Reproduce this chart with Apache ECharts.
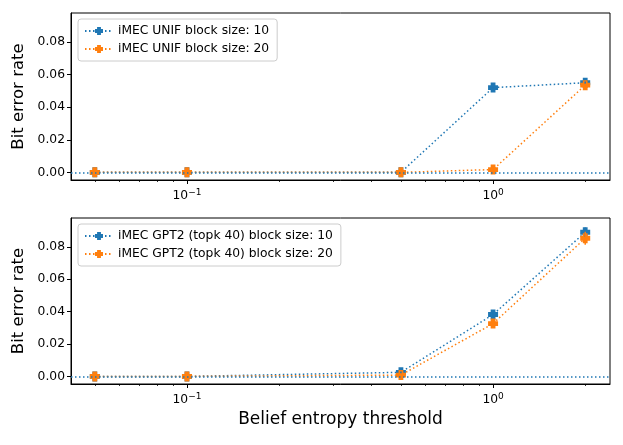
<!DOCTYPE html>
<html><head><meta charset="utf-8">
<script src="https://cdn.jsdelivr.net/npm/echarts@6/dist/echarts.min.js"></script>
<style>html,body{margin:0;padding:0;background:#fff}#c{width:623px;height:445px}</style>
</head><body><div id="c"></div>
<script>
const thresholds = [0.05, 0.1, 0.5, 1, 2];
const unif10 = [0, 0, 0, 0.052, 0.055];
const unif10Err = [0, 0, 0, 0.0008, 0.0008];
const unif20 = [0, 0, 0, 0.0017, 0.0535];
const unif20Err = [0, 0, 0, 0.0008, 0.001];
const gpt10 = [0, 0, 0.0025, 0.0382, 0.089];
const gpt10Err = [0, 0, 0.0005, 0.0015, 0.003];
const gpt20 = [0, 0, 0.0008, 0.0326, 0.0853];
const gpt20Err = [0, 0, 0.0005, 0.002, 0.004];
const yTicks = [0, 0.02, 0.04, 0.06, 0.08];
const xMajor = [0.1, 1];
const xMinor = [0.05,0.06,0.07,0.08,0.09,0.2,0.3,0.4,0.5,0.6,0.7,0.8,0.9,2];
const names = ['iMEC UNIF block size: 10','iMEC UNIF block size: 20','iMEC GPT2 (topk 40) block size: 10','iMEC GPT2 (topk 40) block size: 20'];

const BLUE = '#1f77b4', ORANGE = '#ff7f0e';
const FONT = 'DejaVu Sans';
const plusPath = 'path://M2.6,0H7.4V2.6H10V7.4H7.4V10H2.6V7.4H0V2.6H2.6Z';
const dots = [1.5, 2.5];

function pts(v){ return thresholds.map((x,i)=>[x, v[i]]); }
function errPts(v,e){ return thresholds.map((x,i)=>[x, v[i], e[i]]); }

const grids = [
  {left:71, right:13, top:13, height:167, show:true, borderColor:'#000', borderWidth:1},
  {left:71, right:13, top:218, height:166, show:true, borderColor:'#000', borderWidth:1}
];
const xAxes = [], yAxes = [];
[0,1].forEach(g=>{
  xAxes.push({type:'log', logBase:10, gridIndex:g, min:0.0418, max:2.41,
    name: g===1 ? 'Belief entropy threshold' : '', nameLocation:'middle', nameGap:27,
    nameTextStyle:{fontFamily:FONT, fontSize:17, color:'#000'},
    axisLine:{show:true, onZero:false, lineStyle:{color:'#000', width:1}},
    splitLine:{show:false}, minorSplitLine:{show:false},
    axisTick:{show:true, inside:false, length:4, customValues:xMajor, lineStyle:{color:'#000'}},
    axisLabel:{show:true, margin:8, customValues:xMajor, fontFamily:FONT, fontSize:12.3, color:'#000',
      formatter: v => v < 0.5 ? '10{s|−1}' : '10{s|0}',
      rich:{s:{fontSize:9, verticalAlign:'top', padding:[0,0,7,0], fontFamily:FONT, color:'#000'}}}
  });
  xAxes.push({type:'log', logBase:10, gridIndex:g, min:0.0418, max:2.41, position:'bottom',
    axisLine:{show:false, onZero:false}, splitLine:{show:false},
    axisTick:{show:true, inside:false, length:2, customValues:xMinor, lineStyle:{color:'#000', width:0.8}},
    axisLabel:{show:false}
  });
  yAxes.push({type:'value', gridIndex:g, min:-0.0047, max:0.0978,
    name:'Bit error rate', nameLocation:'middle', nameGap:42,
    nameTextStyle:{fontFamily:FONT, fontSize:16.5, color:'#000'},
    axisLine:{show:true, onZero:false, lineStyle:{color:'#000'}},
    splitLine:{show:false},
    axisTick:{show:true, length:4, customValues:yTicks, lineStyle:{color:'#000'}},
    axisLabel:{margin:6, customValues:yTicks, fontFamily:FONT, fontSize:12.3, color:'#000',
      formatter: v => v.toFixed(2)}
  });
});

function lineSeries(name, data, color, xi, yi, mark){
  const s = {type:'line', name, data:pts(data), xAxisIndex:xi, yAxisIndex:yi,
    symbol:plusPath, symbolSize:10, showAllSymbol:true,
    itemStyle:{color}, lineStyle:{color, width:1.5, type:dots}, z:3};
  if (mark) s.markLine = {silent:true, symbol:['none','none'], label:{show:false},
    lineStyle:{color:BLUE, width:1.5, type:dots}, data:[{yAxis:0}]};
  return s;
}
function errSeries(name, data, err, color, xi, yi){
  return {type:'custom', name, xAxisIndex:xi, yAxisIndex:yi, data:errPts(data,err), z:4,
    renderItem:(params, api)=>{
      const x = api.value(0), y = api.value(1), e = api.value(2);
      const a = api.coord([x, y - e]), b = api.coord([x, y + e]);
      return {type:'line', shape:{x1:a[0], y1:a[1], x2:b[0], y2:b[1]},
        style:{stroke:color, lineWidth:1.5}};
    }};
}

const series = [
  lineSeries(names[0], unif10, BLUE, 0, 0, true),
  errSeries(names[0], unif10, unif10Err, BLUE, 0, 0),
  lineSeries(names[1], unif20, ORANGE, 0, 0, false),
  errSeries(names[1], unif20, unif20Err, ORANGE, 0, 0),
  lineSeries(names[2], gpt10, BLUE, 2, 1, true),
  errSeries(names[2], gpt10, gpt10Err, BLUE, 2, 1),
  lineSeries(names[3], gpt20, ORANGE, 2, 1, false),
  errSeries(names[3], gpt20, gpt20Err, ORANGE, 2, 1)
];

const legendCommon = {orient:'vertical', left:78, itemWidth:28, itemHeight:10, itemGap:6,
  backgroundColor:'rgba(255,255,255,0.8)', borderColor:'#ccc', borderWidth:1, borderRadius:3,
  padding:[6,8,6,6], textStyle:{fontFamily:FONT, fontSize:12.3, color:'#000'}};

const chart = echarts.init(document.getElementById('c'), null, {renderer:'canvas'});
chart.setOption({
  animation:false,
  backgroundColor:'#fff',
  grid:grids,
  xAxis:xAxes,
  yAxis:yAxes,
  legend:[
    Object.assign({}, legendCommon, {top:19, data:[names[0], names[1]]}),
    Object.assign({}, legendCommon, {top:224, data:[names[2], names[3]]})
  ],
  series
});
</script></body></html>
